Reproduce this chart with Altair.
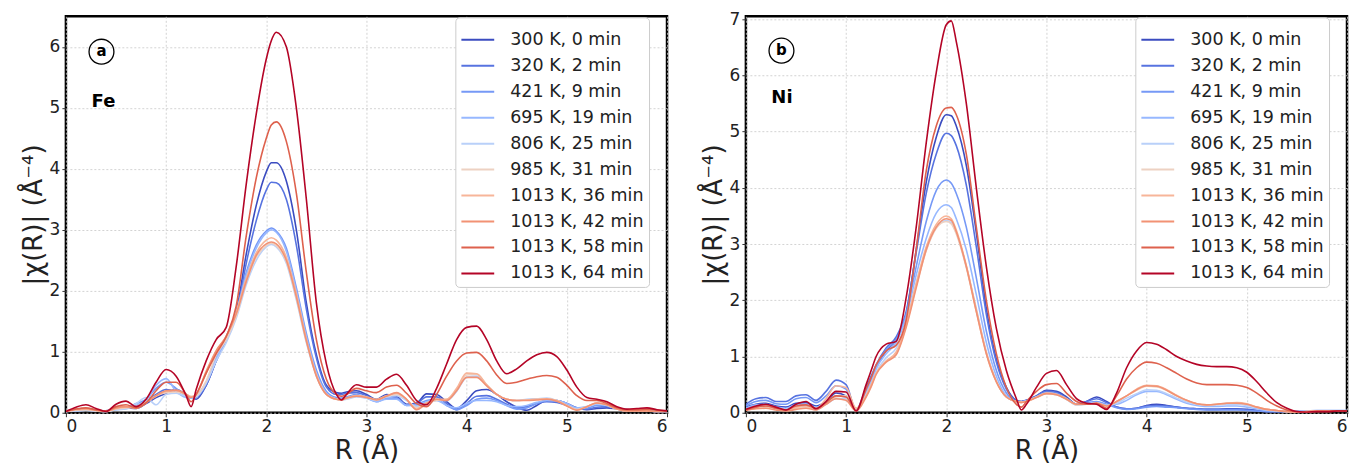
import altair as alt
import pandas as pd

R = [0.0, 0.1, 0.2, 0.3, 0.4, 0.5, 0.6, 0.7, 0.8, 0.9, 1.0, 1.1, 1.2,
     1.25, 1.3, 1.4, 1.5, 1.6, 1.7, 1.8, 1.9, 2.0,
     2.05, 2.1, 2.2, 2.3, 2.4, 2.5, 2.6, 2.7, 2.75,
     2.8, 2.9, 3.0, 3.1, 3.2, 3.3, 3.4, 3.5, 3.6, 3.7, 3.8, 3.9, 4.0, 4.1, 4.2,
     4.3, 4.4, 4.5, 4.6, 4.7, 4.8, 4.9, 5.0, 5.1, 5.2, 5.3, 5.4, 5.5, 5.6, 5.7,
     5.8, 5.9, 6.0]

LABELS = ["300 K, 0 min", "320 K, 2 min", "421 K, 9 min", "695 K, 19 min",
          "806 K, 25 min", "985 K, 31 min", "1013 K, 36 min", "1013 K, 42 min",
          "1013 K, 58 min", "1013 K, 64 min"]
COLORS = ["#3b4cc0", "#5773e0", "#7699f6", "#97b8ff", "#b9d0f9",
          "#edd1c2", "#f7b599", "#f29274", "#de614d", "#b40426"]

# ---- Fe K-edge |chi(R)| ----
FE_300 = [0.02, 0.04, 0.05, 0.04, 0.03, 0.06, 0.08, 0.07, 0.15, 0.25, 0.32, 0.38, 0.3,
          0.25, 0.22, 0.45, 0.85, 1.2, 1.65, 2.6, 3.4, 3.95,
          4.1, 4.1, 3.8, 3.0, 1.8, 0.95, 0.45, 0.33, 0.32,
          0.34, 0.36, 0.3, 0.22, 0.3, 0.27, 0.14, 0.16, 0.31, 0.3, 0.18, 0.07, 0.2, 0.36, 0.38,
          0.3, 0.18, 0.09, 0.04, 0.12, 0.2, 0.2, 0.15, 0.08, 0.05, 0.07, 0.08, 0.06, 0.04, 0.03,
          0.03, 0.02, 0.02]
FE_320 = [0.02, 0.05, 0.06, 0.04, 0.03, 0.07, 0.09, 0.08, 0.2, 0.3, 0.38, 0.35, 0.28,
          0.24, 0.25, 0.45, 0.85, 1.2, 1.6, 2.45, 3.15, 3.65,
          3.78, 3.77, 3.5, 2.75, 1.7, 0.9, 0.42, 0.3, 0.3,
          0.32, 0.33, 0.28, 0.2, 0.28, 0.25, 0.13, 0.15, 0.26, 0.26, 0.15, 0.05, 0.15, 0.27, 0.28,
          0.22, 0.14, 0.08, 0.1, 0.15, 0.18, 0.17, 0.12, 0.06, 0.06, 0.09, 0.1, 0.07, 0.04, 0.03,
          0.03, 0.02, 0.02]
FE_421 = [0.02, 0.04, 0.05, 0.03, 0.02, 0.06, 0.08, 0.15, 0.22, 0.4, 0.5, 0.4, 0.28,
          0.25, 0.28, 0.5, 0.9, 1.25, 1.65, 2.3, 2.75, 2.98,
          3.03, 2.98, 2.7, 2.05, 1.3, 0.7, 0.35, 0.25, 0.24,
          0.26, 0.3, 0.25, 0.18, 0.24, 0.24, 0.12, 0.14, 0.2, 0.22, 0.12, 0.05, 0.12, 0.22, 0.24,
          0.2, 0.12, 0.06, 0.08, 0.15, 0.2, 0.2, 0.15, 0.08, 0.08, 0.12, 0.12, 0.08, 0.05, 0.04,
          0.03, 0.02, 0.02]
FE_695 = [0.02, 0.03, 0.04, 0.03, 0.02, 0.05, 0.07, 0.12, 0.2, 0.45, 0.56, 0.35, 0.25,
          0.24, 0.27, 0.5, 0.88, 1.22, 1.62, 2.25, 2.7, 2.95,
          3.0, 2.96, 2.65, 2.0, 1.25, 0.65, 0.32, 0.23, 0.22,
          0.24, 0.28, 0.24, 0.18, 0.22, 0.22, 0.12, 0.12, 0.18, 0.2, 0.12, 0.08, 0.15, 0.2, 0.2,
          0.18, 0.12, 0.1, 0.12, 0.17, 0.2, 0.2, 0.15, 0.08, 0.1, 0.14, 0.13, 0.08, 0.05, 0.04,
          0.03, 0.02, 0.02]
FE_806 = [0.02, 0.03, 0.04, 0.03, 0.02, 0.05, 0.06, 0.15, 0.25, 0.13, 0.3, 0.32, 0.27,
          0.25, 0.26, 0.48, 0.85, 1.15, 1.55, 2.1, 2.5, 2.72,
          2.76, 2.72, 2.45, 1.85, 1.15, 0.6, 0.3, 0.22, 0.21,
          0.22, 0.26, 0.24, 0.2, 0.26, 0.28, 0.2, 0.1, 0.15, 0.2, 0.2, 0.35, 0.58, 0.6, 0.45,
          0.3, 0.22, 0.2, 0.22, 0.23, 0.24, 0.2, 0.12, 0.06, 0.1, 0.15, 0.12, 0.06, 0.03, 0.03,
          0.03, 0.02, 0.02]
FE_985 = [0.02, 0.04, 0.05, 0.03, 0.02, 0.06, 0.08, 0.1, 0.18, 0.28, 0.33, 0.34, 0.3,
          0.27, 0.28, 0.52, 0.95, 1.2, 1.58, 2.15, 2.55, 2.74,
          2.78, 2.74, 2.48, 1.88, 1.17, 0.62, 0.3, 0.22, 0.21,
          0.23, 0.27, 0.25, 0.21, 0.27, 0.3, 0.22, 0.08, 0.16, 0.2, 0.22, 0.38, 0.62, 0.63, 0.46,
          0.3, 0.22, 0.2, 0.21, 0.22, 0.23, 0.2, 0.12, 0.05, 0.1, 0.16, 0.13, 0.06, 0.03, 0.03,
          0.03, 0.02, 0.02]
FE_1013_36 = [0.02, 0.05, 0.06, 0.04, 0.02, 0.07, 0.09, 0.08, 0.17, 0.27, 0.35, 0.36, 0.3,
              0.26, 0.3, 0.65, 1.0, 1.25, 1.65, 2.2, 2.62, 2.83,
              2.87, 2.83, 2.55, 1.95, 1.2, 0.62, 0.3, 0.22, 0.21,
              0.24, 0.28, 0.26, 0.22, 0.28, 0.32, 0.22, 0.06, 0.16, 0.22, 0.22, 0.4, 0.65, 0.64, 0.46,
              0.3, 0.22, 0.2, 0.21, 0.22, 0.23, 0.2, 0.12, 0.05, 0.1, 0.16, 0.13, 0.06, 0.03, 0.03,
              0.03, 0.02, 0.02]
FE_1013_42 = [0.02, 0.06, 0.07, 0.04, 0.02, 0.08, 0.1, 0.07, 0.16, 0.28, 0.36, 0.37, 0.3,
              0.25, 0.3, 0.68, 1.02, 1.25, 1.62, 2.15, 2.58, 2.77,
              2.8, 2.77, 2.5, 1.9, 1.18, 0.6, 0.3, 0.22, 0.21,
              0.24, 0.27, 0.25, 0.21, 0.27, 0.33, 0.22, 0.05, 0.15, 0.22, 0.2, 0.36, 0.58, 0.58, 0.44,
              0.3, 0.22, 0.2, 0.2, 0.21, 0.22, 0.19, 0.11, 0.04, 0.1, 0.16, 0.13, 0.06, 0.03, 0.03,
              0.03, 0.02, 0.02]
FE_1013_58 = [0.02, 0.06, 0.08, 0.05, 0.03, 0.1, 0.13, 0.08, 0.16, 0.36, 0.5, 0.5, 0.3,
              0.18, 0.3, 0.65, 0.97, 1.25, 1.75, 2.9, 3.85, 4.5,
              4.72, 4.77, 4.45, 3.6, 2.3, 1.2, 0.55, 0.3, 0.27,
              0.3, 0.4, 0.36, 0.33, 0.42, 0.45, 0.32, 0.15, 0.1, 0.3, 0.6, 0.85, 0.98, 0.99, 0.85,
              0.62, 0.48, 0.5, 0.55, 0.59, 0.61, 0.58, 0.45, 0.28, 0.2, 0.2, 0.15, 0.08, 0.05, 0.05,
              0.06, 0.04, 0.03]
FE_1013_64 = [0.02, 0.09, 0.13, 0.07, 0.02, 0.14, 0.19, 0.1, 0.22, 0.5, 0.71, 0.6, 0.28,
              0.1, 0.38, 0.85, 1.2, 1.4, 2.4, 3.75, 4.9, 5.8,
              6.1, 6.24, 6.0, 5.0, 3.5, 1.8, 0.8, 0.3, 0.21,
              0.3, 0.46, 0.42, 0.42, 0.55, 0.63, 0.45, 0.2, 0.13, 0.4, 0.8, 1.2, 1.4, 1.42, 1.2,
              0.85, 0.64, 0.72, 0.85, 0.95, 0.99, 0.92, 0.7, 0.42, 0.25, 0.22, 0.18, 0.1, 0.06, 0.07,
              0.08, 0.05, 0.03]

# ---- Ni K-edge |chi(R)| ----
NI_300 = [0.1, 0.15, 0.17, 0.12, 0.1, 0.17, 0.18, 0.12, 0.2, 0.35, 0.3, 0.05, 0.35,
          0.55, 0.8, 1.1, 1.3, 1.75, 2.9, 4.1, 4.9, 5.3,
          5.28, 5.1, 4.4, 3.2, 1.85, 0.95, 0.45, 0.22, 0.2,
          0.22, 0.3, 0.4, 0.38, 0.28, 0.15, 0.2, 0.28, 0.2, 0.1, 0.07, 0.08, 0.13, 0.15, 0.13,
          0.1, 0.08, 0.07, 0.06, 0.06, 0.07, 0.07, 0.06, 0.04, 0.02, 0.02, 0.02, 0.02, 0.02, 0.03,
          0.03, 0.03, 0.03]
NI_320 = [0.15, 0.25, 0.27, 0.2, 0.2, 0.3, 0.32, 0.22, 0.38, 0.58, 0.5, 0.05, 0.45,
          0.65, 0.85, 1.15, 1.35, 1.8, 2.85, 3.9, 4.6, 4.97,
          4.93, 4.75, 4.05, 2.95, 1.75, 0.9, 0.42, 0.22, 0.2,
          0.22, 0.3, 0.38, 0.36, 0.26, 0.15, 0.2, 0.25, 0.18, 0.1, 0.07, 0.08, 0.12, 0.13, 0.12,
          0.1, 0.08, 0.07, 0.06, 0.06, 0.06, 0.06, 0.05, 0.04, 0.02, 0.02, 0.02, 0.02, 0.02, 0.03,
          0.03, 0.03, 0.03]
NI_421 = [0.12, 0.2, 0.22, 0.16, 0.15, 0.25, 0.27, 0.18, 0.3, 0.48, 0.42, 0.04, 0.4,
          0.6, 0.82, 1.12, 1.3, 1.75, 2.6, 3.4, 3.95, 4.14,
          4.08, 3.9, 3.3, 2.4, 1.45, 0.75, 0.35, 0.2, 0.19,
          0.21, 0.28, 0.36, 0.34, 0.25, 0.15, 0.18, 0.2, 0.15, 0.09, 0.06, 0.07, 0.1, 0.11, 0.1,
          0.09, 0.07, 0.06, 0.05, 0.05, 0.05, 0.05, 0.04, 0.03, 0.02, 0.02, 0.02, 0.02, 0.02, 0.03,
          0.03, 0.03, 0.03]
NI_695 = [0.08, 0.14, 0.15, 0.1, 0.08, 0.14, 0.15, 0.1, 0.2, 0.3, 0.28, 0.05, 0.35,
          0.55, 0.78, 1.05, 1.25, 1.7, 2.45, 3.1, 3.55, 3.7,
          3.65, 3.45, 2.9, 2.1, 1.25, 0.65, 0.3, 0.2, 0.19,
          0.21, 0.28, 0.35, 0.33, 0.24, 0.14, 0.16, 0.18, 0.14, 0.15, 0.22, 0.32, 0.38, 0.38, 0.32,
          0.24, 0.17, 0.13, 0.11, 0.11, 0.12, 0.12, 0.1, 0.07, 0.04, 0.03, 0.02, 0.02, 0.03, 0.04,
          0.04, 0.04, 0.04]
NI_806 = [0.06, 0.1, 0.12, 0.08, 0.06, 0.1, 0.12, 0.08, 0.15, 0.25, 0.25, 0.05, 0.32,
          0.5, 0.72, 0.98, 1.15, 1.6, 2.3, 2.9, 3.3, 3.42,
          3.38, 3.2, 2.6, 1.85, 1.08, 0.56, 0.28, 0.2, 0.19,
          0.21, 0.28, 0.34, 0.32, 0.24, 0.14, 0.15, 0.17, 0.13, 0.17, 0.26, 0.34, 0.41, 0.4, 0.34,
          0.26, 0.19, 0.15, 0.13, 0.14, 0.15, 0.15, 0.13, 0.09, 0.05, 0.03, 0.02, 0.02, 0.03, 0.04,
          0.04, 0.04, 0.04]
NI_985 = [0.05, 0.08, 0.1, 0.07, 0.05, 0.08, 0.1, 0.07, 0.15, 0.28, 0.3, 0.08, 0.3,
          0.48, 0.7, 0.92, 1.05, 1.55, 2.25, 2.88, 3.28, 3.4,
          3.36, 3.18, 2.58, 1.8, 1.05, 0.55, 0.28, 0.2, 0.19,
          0.2, 0.27, 0.34, 0.32, 0.24, 0.14, 0.15, 0.17, 0.12, 0.2, 0.3, 0.4, 0.47, 0.46, 0.4,
          0.3, 0.22, 0.16, 0.14, 0.15, 0.17, 0.17, 0.15, 0.1, 0.06, 0.04, 0.02, 0.01, 0.02, 0.03,
          0.03, 0.03, 0.03]
NI_1013_36 = [0.06, 0.1, 0.12, 0.08, 0.05, 0.1, 0.12, 0.07, 0.25, 0.48, 0.45, 0.08, 0.3,
              0.5, 0.7, 0.92, 1.08, 1.58, 2.3, 2.95, 3.35, 3.5,
              3.45, 3.25, 2.62, 1.83, 1.07, 0.56, 0.28, 0.2, 0.19,
              0.2, 0.28, 0.35, 0.33, 0.25, 0.15, 0.15, 0.17, 0.12, 0.2, 0.3, 0.42, 0.49, 0.48, 0.41,
              0.31, 0.22, 0.16, 0.14, 0.15, 0.17, 0.18, 0.16, 0.1, 0.06, 0.04, 0.02, 0.01, 0.02, 0.03,
              0.03, 0.03, 0.03]
NI_1013_42 = [0.04, 0.07, 0.08, 0.05, 0.03, 0.06, 0.08, 0.05, 0.15, 0.25, 0.22, 0.03, 0.28,
              0.46, 0.68, 0.9, 1.03, 1.52, 2.22, 2.9, 3.3, 3.45,
              3.42, 3.22, 2.6, 1.8, 1.05, 0.55, 0.28, 0.2, 0.18,
              0.2, 0.27, 0.34, 0.32, 0.24, 0.15, 0.15, 0.17, 0.12, 0.2, 0.3, 0.41, 0.48, 0.47, 0.4,
              0.3, 0.22, 0.16, 0.14, 0.15, 0.17, 0.17, 0.15, 0.1, 0.06, 0.04, 0.02, 0.01, 0.02, 0.03,
              0.03, 0.03, 0.03]
NI_1013_58 = [0.05, 0.1, 0.12, 0.08, 0.05, 0.12, 0.14, 0.08, 0.18, 0.3, 0.28, 0.04, 0.42,
              0.62, 0.85, 1.1, 1.2, 1.65, 2.9, 4.3, 5.1, 5.42,
              5.43, 5.3, 4.6, 3.3, 2.0, 1.05, 0.45, 0.15, 0.1,
              0.2, 0.38, 0.5, 0.52, 0.35, 0.2, 0.15, 0.17, 0.08, 0.3, 0.6, 0.8, 0.9, 0.88, 0.8,
              0.7, 0.6, 0.53, 0.5, 0.5, 0.5, 0.49, 0.45, 0.35, 0.22, 0.12, 0.05, 0.02, 0.01, 0.02,
              0.02, 0.03, 0.03]
NI_1013_64 = [0.06, 0.12, 0.15, 0.1, 0.05, 0.15, 0.2, 0.07, 0.2, 0.38, 0.37, 0.03, 0.5,
              0.75, 1.0, 1.22, 1.27, 2.05, 3.3, 4.8, 6.05, 6.9,
              6.97, 6.6, 5.5, 4.0, 2.6, 1.5, 0.75, 0.25, 0.05,
              0.15, 0.45, 0.7, 0.75, 0.5, 0.25, 0.17, 0.15, 0.06, 0.35, 0.8, 1.1, 1.25, 1.22, 1.12,
              1.0, 0.92, 0.86, 0.83, 0.82, 0.82, 0.8, 0.72, 0.55, 0.35, 0.18, 0.08, 0.02, 0.01, 0.02,
              0.02, 0.03, 0.03]

FE = [FE_300, FE_320, FE_421, FE_695, FE_806, FE_985, FE_1013_36, FE_1013_42, FE_1013_58, FE_1013_64]
NI = [NI_300, NI_320, NI_421, NI_695, NI_806, NI_985, NI_1013_36, NI_1013_42, NI_1013_58, NI_1013_64]


def long_df(series_list):
    rows = []
    for k, (lab, ys) in enumerate(zip(LABELS, series_list)):
        assert len(ys) == len(R), (lab, len(ys))
        for x, y in zip(R, ys):
            rows.append({"R": x, "chi": y, "series": lab, "k": k})
    return pd.DataFrame(rows)


FONT = "DejaVu Sans"
W, H = 602, 397


def panel(series_list, ymax, letter, element, ann_x, circ_y, elem_x, elem_y):
    df = long_df(series_list)
    x_enc = alt.X("R:Q", scale=alt.Scale(domain=[0, 6], nice=False, zero=False),
                  axis=alt.Axis(title="R (Å)", values=[0, 1, 2, 3, 4, 5, 6], format="d"))
    y_enc = alt.Y("chi:Q", scale=alt.Scale(domain=[0, ymax], nice=False),
                  axis=alt.Axis(title="|χ(R)|  (Å⁻⁴)", values=list(range(0, int(ymax) + 1)),
                                format="d"))
    lines = alt.Chart(df).mark_line(strokeWidth=1.6, interpolate="monotone", clip=True).encode(
        x=x_enc,
        y=y_enc,
        color=alt.Color("series:N", sort=LABELS,
                        scale=alt.Scale(domain=LABELS, range=COLORS),
                        legend=alt.Legend(title=None, orient="none", legendX=390, legendY=1,
                                          symbolType="stroke", symbolSize=1080,
                                          symbolStrokeWidth=2, labelFontSize=17.5,
                                          labelFont=FONT, labelColor="#222",
                                          rowPadding=0, padding=5,
                                          fillColor="white", strokeColor="#cccccc",
                                          cornerRadius=4, labelOffset=15)),
        order=alt.Order("k:Q"),
    )
    ann = pd.DataFrame({"R": [ann_x], "chi": [circ_y], "txt": [letter]})
    el = pd.DataFrame({"R": [elem_x], "chi": [elem_y], "txt": [element]})
    circle = alt.Chart(ann).mark_point(shape="circle", filled=False, size=620,
                                       color="black", strokeWidth=1.3, opacity=1).encode(
        x="R:Q", y="chi:Q")
    ctext = alt.Chart(ann).mark_text(fontWeight="bold", fontSize=15, font=FONT,
                                     color="black", dy=-1).encode(
        x="R:Q", y="chi:Q", text="txt:N")
    etext = alt.Chart(el).mark_text(fontWeight="bold", fontSize=18, font=FONT,
                                    color="black").encode(
        x="R:Q", y="chi:Q", text="txt:N")
    return alt.layer(lines, circle, ctext, etext).properties(width=W, height=H)


pa = panel(FE, 6.5, "a", "Fe", 0.355, 5.92, 0.375, 5.09)
pb = panel(NI, 7.05, "b", "Ni", 0.355, 6.44, 0.36, 5.6)

chart = alt.hconcat(pa, pb, spacing=29).resolve_scale(
    color="independent"
).resolve_legend(
    color="independent"
).properties(
    padding={"left": 10, "right": 0, "top": 0, "bottom": 0}
).configure_view(
    stroke="black", strokeWidth=2.5
).configure_axis(
    labelFont=FONT, titleFont=FONT, labelFontSize=17, titleFontSize=26,
    titleFontWeight="normal", labelColor="#222", titleColor="#222",
    grid=True, gridColor="#c8c8c8", gridDash=[2, 2], gridWidth=0.8,
    domain=False, tickColor="#333", tickSize=4, labelPadding=2,
    titlePadding=3
)

chart.save("out.html", embed_options={"renderer": "svg", "actions": False})
